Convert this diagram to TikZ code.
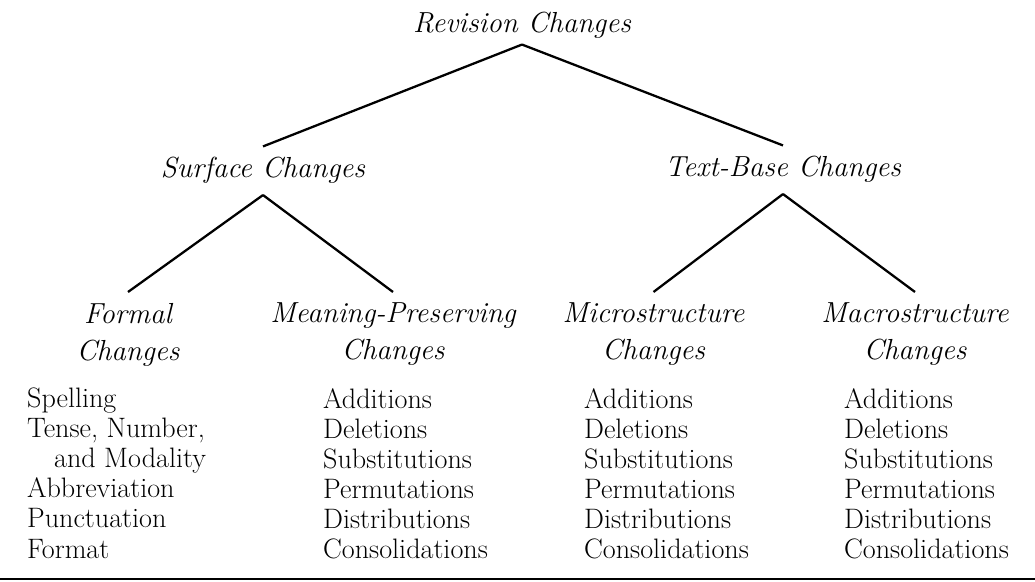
\documentclass[tikz,border=0pt]{standalone}
\usepackage{fontspec}
\begin{document}
\begin{tikzpicture}[line width=1.3pt,
  head/.style={font=\fontsize{16.5}{21}\selectfont\itshape, inner sep=0.2cm, anchor=base},
  sub/.style={font=\fontsize{16.5}{21}\selectfont\itshape, inner sep=0.2cm, anchor=north, align=center},
  items/.style={font=\fontsize{16}{17.1}\selectfont\addfontfeatures{LetterSpace=3}, inner sep=0pt, anchor=north west, align=left}]
  \useasboundingbox (0.000,0.000) rectangle (20.700,11.640);
  % top levels
  \node[head, inner sep=0.09cm] (rev) at (10.440,10.980) {Revision Changes};
  \node[head] (surf) at (5.260,8.080) {Surface Changes};
  \node[head] (textb) at (15.660,8.100) {Text-Base Changes};
  \draw (rev.south) -- (surf.north);
  \draw (rev.south) -- (textb.north);
  % third level
  \node[sub] (formal) at (2.560,5.800) {Formal\\Changes};
  \node[sub] (meaning) at (7.860,5.800) {Meaning-Preserving\\Changes};
  \node[sub] (micro) at (13.070,5.800) {Microstructure\\Changes};
  \node[sub] (macro) at (18.300,5.800) {Macrostructure\\Changes};
  \draw (surf.south) -- (formal.north);
  \draw (surf.south) -- (meaning.north);
  \draw (textb.south) -- (micro.north);
  \draw (textb.south) -- (macro.north);
  % lists
  \node[items] (formallist) at (0.520,3.900) {Spelling\\Tense, Number,\\\hspace{0.54cm}and Modality\\Abbreviation\\Punctuation\\Format};
  \node[items] (meaninglist) at (6.440,3.900) {Additions\\Deletions\\Substitutions\\Permutations\\Distributions\\Consolidations};
  \node[items] (microlist) at (11.660,3.900) {Additions\\Deletions\\Substitutions\\Permutations\\Distributions\\Consolidations};
  \node[items] (macrolist) at (16.860,3.900) {Additions\\Deletions\\Substitutions\\Permutations\\Distributions\\Consolidations};
  \draw (0.000,0.060) -- (20.700,0.060);
\end{tikzpicture}
\end{document}
